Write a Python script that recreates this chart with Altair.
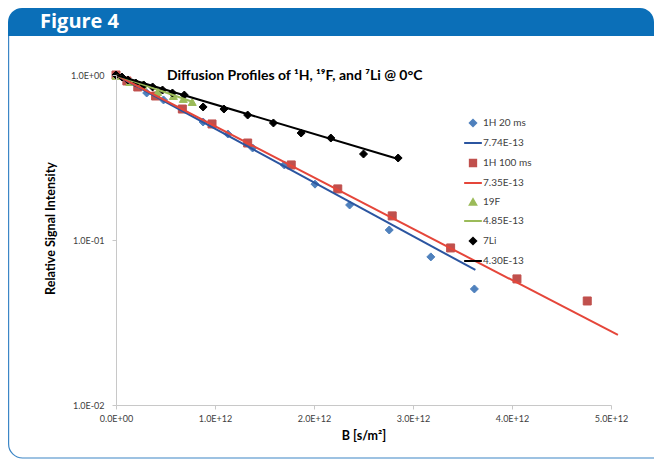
import altair as alt
import pandas as pd

# ---------------- data (B in units of 1e12 s/m^2) ----------------
h20_B = [0.0, 0.12, 0.31, 0.48, 0.88, 1.13, 1.38, 1.70, 2.01, 2.36, 2.76, 3.18, 3.62]
h20_I = [1.0, 0.925, 0.778, 0.706, 0.519, 0.439, 0.361, 0.285, 0.218, 0.163, 0.115, 0.079, 0.0505]

h100_B = [0.0, 0.11, 0.22, 0.40, 0.67, 0.97, 1.33, 1.77, 2.24, 2.79, 3.38, 4.05, 4.76]
h100_I = [1.0, 0.92, 0.846, 0.746, 0.622, 0.505, 0.387, 0.285, 0.204, 0.140, 0.0895, 0.0581, 0.0427]

f19_B = [0.0, 0.14, 0.27, 0.42, 0.58, 0.68, 0.77]
f19_I = [0.99, 0.907, 0.87, 0.789, 0.746, 0.716, 0.686]

li7_B = [0.0, 0.06, 0.12, 0.20, 0.28, 0.37, 0.47, 0.57, 0.69, 0.88, 1.09, 1.33, 1.59, 1.87, 2.17, 2.50, 2.85]
li7_I = [1.0, 0.972, 0.933, 0.894, 0.87, 0.846, 0.811, 0.778, 0.756, 0.640, 0.622, 0.572, 0.512, 0.445, 0.415, 0.332, 0.314]

# fitted lines (end points)
fit_h20_B = [0.0, 3.63]
fit_h20_I = [1.0, 0.0658]
fit_h100_B = [0.0, 5.07]
fit_h100_I = [1.0, 0.0266]
fit_f19_B = [0.0, 0.77]
fit_f19_I = [1.0, 0.688]
fit_li7_B = [0.0, 2.85]
fit_li7_I = [1.0, 0.31]

legend_labels = ["1H 20 ms", "7.74E-13", "1H 100 ms", "7.35E-13",
                 "19F", "4.85E-13", "7Li", "4.30E-13"]
legend_colors = ["#4F81BD", "#2B55A0", "#C0504D", "#E5463A",
                 "#9BBB59", "#9BBB59", "#000000", "#000000"]
STROKE_PATH = "M-2.8,0H2.8"
legend_shapes = ["diamond", STROKE_PATH, "square", STROKE_PATH,
                 "triangle-up", STROKE_PATH, "diamond", STROKE_PATH]

x_tick_values = [0, 1e12, 2e12, 3e12, 4e12, 5e12]
x_tick_labels = ["0.0E+00", "1.0E+12", "2.0E+12", "3.0E+12", "4.0E+12", "5.0E+12"]
y_tick_values = [0.01, 0.1, 1.0]
y_tick_labels = ["1.0E-02", "1.0E-01", "1.0E+00"]

TITLE = "Diffusion Profiles of \u00b9H, \u00b9\u2079F, and \u2077Li @ 0\u00b0C"

# ---------------- tables ----------------
def table(Bs, Is, label):
    return pd.DataFrame({"B": [b * 1e12 for b in Bs], "I": Is, "label": label})

pts = pd.concat([
    table(h20_B, h20_I, legend_labels[0]),
    table(h100_B, h100_I, legend_labels[2]),
    table(f19_B, f19_I, legend_labels[4]),
    table(li7_B, li7_I, legend_labels[6]),
], ignore_index=True)

fits = pd.concat([
    table(fit_h20_B, fit_h20_I, legend_labels[1]),
    table(fit_h100_B, fit_h100_I, legend_labels[3]),
    table(fit_f19_B, fit_f19_I, legend_labels[5]),
    table(fit_li7_B, fit_li7_I, legend_labels[7]),
], ignore_index=True)


def label_expr(values, labels):
    expr = "''"
    for v, l in zip(values, labels):
        tol = abs(v) * 1e-6 + 1e-9
        expr = f"abs(datum.value - {v!r}) < {tol!r} ? '{l}' : ({expr})"
    return expr


FONT = "Lato"
W, H = 495, 330

color_scale = alt.Scale(domain=legend_labels, range=legend_colors)
shape_scale = alt.Scale(domain=legend_labels, range=legend_shapes)
legend = alt.Legend(title=None, orient="none", legendX=352, legendY=43,
                    symbolSize=40, symbolStrokeWidth=2, labelFontSize=10,
                    labelFont=FONT, labelColor="#404040", rowPadding=7,
                    labelOffset=5, padding=0)

x_enc = alt.X("B:Q", scale=alt.Scale(domain=[0, 5e12], nice=False, zero=False),
              axis=alt.Axis(values=x_tick_values,
                            labelExpr=label_expr(x_tick_values, x_tick_labels),
                            title="B [s/m\u00b2]", grid=False, zindex=1,
                            domainColor="#c8c8c8", tickColor="#c8c8c8", tickSize=4,
                            labelFont=FONT, labelFontSize=9, labelColor="#404040",
                            labelPadding=5, titleFont=FONT, titleFontSize=12.5,
                            titleFontWeight="bold", titleColor="#000000",
                            titlePadding=6, labelFlush=False))
y_enc = alt.Y("I:Q", scale=alt.Scale(type="log", domain=[0.01, 1], nice=False),
              axis=alt.Axis(values=y_tick_values,
                            labelExpr=label_expr(y_tick_values, y_tick_labels),
                            title="Relative Signal Intensity", grid=False, zindex=1,
                            domainColor="#c8c8c8", tickColor="#c8c8c8", tickSize=4,
                            labelFont=FONT, labelFontSize=9, labelColor="#404040",
                            labelPadding=8, titleFont=FONT, titleFontSize=12.5,
                            titleFontWeight="bold", titleColor="#000000",
                            titleX=-66, titleY=153, titleAlign="center",
                            titleBaseline="middle", labelFlush=False))

points = alt.Chart(pts).mark_point(filled=True, size=64, strokeWidth=1, opacity=1).encode(
    x=x_enc, y=y_enc,
    fill=alt.Fill("label:N", scale=color_scale, legend=legend),
    stroke=alt.Stroke("label:N", scale=color_scale, legend=legend),
    shape=alt.Shape("label:N", scale=shape_scale, legend=legend),
)

lines = alt.Chart(fits).mark_line(strokeWidth=2).encode(
    x=x_enc, y=y_enc,
    stroke=alt.Stroke("label:N", scale=color_scale, legend=legend),
)

deco = alt.Data(values=[{"k": 0}])
frame = alt.Chart(deco).mark_rect(fill="white", stroke="#3C86C6", strokeWidth=1.2,
                                  cornerRadiusBottomLeft=14).encode(
    x=alt.value(-107.4), x2=alt.value(600), y=alt.value(-40), y2=alt.value(383))
header = alt.Chart(deco).mark_rect(color="#0B6FB8", cornerRadiusTopLeft=14,
                                   cornerRadiusTopRight=14).encode(
    x=alt.value(-108), x2=alt.value(538), y=alt.value(-67), y2=alt.value(-39))
fig_label = alt.Chart(deco).mark_text(text="Figure 4", font="Open Sans", fontSize=20,
                                      fontWeight="bold", color="white",
                                      align="left", baseline="middle").encode(
    x=alt.value(-76), y=alt.value(-53))
title = alt.Chart(deco).mark_text(text=TITLE, font=FONT, fontSize=14,
                                  fontWeight="bold", color="#000000",
                                  align="left", baseline="middle").encode(
    x=alt.value(51), y=alt.value(1))

chart = alt.layer(frame, header, fig_label, title, points, lines).properties(
    width=W, height=H,
    padding={"left": 108, "top": 67, "right": 43, "bottom": 55},
    autosize=alt.AutoSizeParams(type="none"),
    background="white",
).configure_view(stroke=None)

chart.save("out.html", embed_options={"renderer": "svg", "actions": False})
